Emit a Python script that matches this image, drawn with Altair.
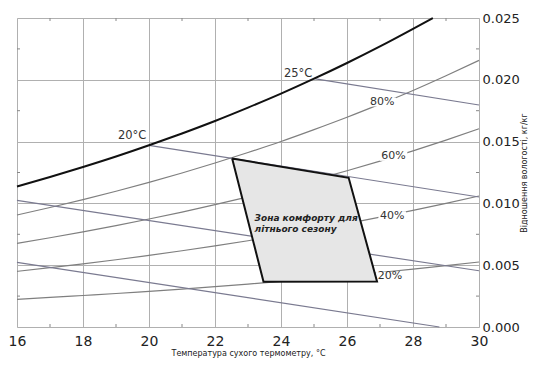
import altair as alt
import pandas as pd

# ---- data ----
T = [16, 17, 18, 19, 20, 21, 22, 23, 24, 25, 26, 27, 28, 29, 30]
T_SAT = [16, 17, 18, 19, 20, 21, 22, 23, 24, 25, 26, 27, 28, 28.6]
W_SAT = [0.01137, 0.01213, 0.01294, 0.01379, 0.01470, 0.01566, 0.01667,
         0.01775, 0.01888, 0.02009, 0.02136, 0.02270, 0.02412, 0.02500]
RH80 = [0.00906, 0.00967, 0.01031, 0.01098, 0.01170, 0.01246, 0.01327, 0.01412,
        0.01501, 0.01597, 0.01697, 0.01803, 0.01914, 0.02033, 0.02157]
RH60 = [0.00677, 0.00722, 0.00770, 0.00820, 0.00874, 0.00930, 0.00990, 0.01053,
        0.01119, 0.01190, 0.01264, 0.01342, 0.01425, 0.01512, 0.01604]
RH40 = [0.00450, 0.00480, 0.00511, 0.00544, 0.00580, 0.00617, 0.00656, 0.00698,
        0.00742, 0.00788, 0.00837, 0.00889, 0.00943, 0.01000, 0.01060]
RH20 = [0.00224, 0.00239, 0.00255, 0.00271, 0.00289, 0.00307, 0.00326, 0.00347,
        0.00369, 0.00392, 0.00416, 0.00441, 0.00468, 0.00496, 0.00526]

WB_NAMES = ["25", "20", "15", "10"]
WB_T0 = [25, 20, 16, 16]
WB_W0 = [0.02009, 0.01470, 0.01024, 0.00523]
WB_T1 = [30, 30, 30, 28.8]
WB_W1 = [0.01796, 0.01052, 0.00455, 0.0]

RH_LABELS = ["80%", "60%", "40%", "20%"]
RH_LABEL_T = [27.07, 27.41, 27.37, 27.30]
RH_LABEL_W = [0.0182, 0.0138, 0.0090, 0.0041]

WB_LABELS = ["20°C", "25°C"]
WB_LABEL_T = [19.49, 24.52]
WB_LABEL_W = [0.01544, 0.02048]

ZONE_T = [22.52, 26.05, 26.91, 23.47, 22.52]
ZONE_W = [0.01363, 0.01207, 0.00369, 0.00366, 0.01363]
ZONE_TEXT = "Зона комфорту для\nлітнього сезону"
ZONE_TEXT_T = [23.2]
ZONE_TEXT_W = [0.00855]

X_TICKS = [16, 18, 20, 22, 24, 26, 28, 30]
X_MINOR = [17, 19, 21, 23, 25, 27, 29]
Y_TICKS = [0.0, 0.005, 0.010, 0.015, 0.020, 0.025]
Y_MINOR = [0.0025, 0.0075, 0.0125, 0.0175, 0.0225]

# ---- tables ----
rh_rows = []
for name, vals in [("80", RH80), ("60", RH60), ("40", RH40), ("20", RH20)]:
    for t, w in zip(T, vals):
        rh_rows.append({"curve": name, "T": t, "W": w})
rh_df = pd.DataFrame(rh_rows)
sat_df = pd.DataFrame({"T": T_SAT, "W": W_SAT})
wb_rows = []
for n, t0, w0, t1, w1 in zip(WB_NAMES, WB_T0, WB_W0, WB_T1, WB_W1):
    wb_rows.append({"wb": n, "T": t0, "W": w0})
    wb_rows.append({"wb": n, "T": t1, "W": w1})
wb_df = pd.DataFrame(wb_rows)
rhl_df = pd.DataFrame({"label": RH_LABELS, "T": RH_LABEL_T, "W": RH_LABEL_W})
wbl_df = pd.DataFrame({"label": WB_LABELS, "T": WB_LABEL_T, "W": WB_LABEL_W})
zone_df = pd.DataFrame({"T": ZONE_T, "W": ZONE_W, "o": list(range(len(ZONE_T)))})
zt_df = pd.DataFrame({"T": ZONE_TEXT_T, "W": ZONE_TEXT_W, "txt": [ZONE_TEXT]})
xm_df = pd.DataFrame({"T": X_MINOR})
ym_df = pd.DataFrame({"W": Y_MINOR})

FONT = "DejaVu Sans"
xscale = alt.Scale(domain=[16, 30], nice=False, zero=False)
yscale = alt.Scale(domain=[0, 0.025], nice=False, zero=False)
xaxis = alt.Axis(values=X_TICKS, format="d", grid=True, gridColor="#b0b0b0",
                 gridWidth=1, ticks=False, domain=False, labelFont=FONT,
                 labelFontSize=14, labelColor="#222", labelPadding=7,
                 labelFlush=False, title="Температура сухого термометру, °C",
                 titleFont=FONT, titleFontSize=8, titleFontWeight="normal",
                 titleColor="#222", titlePadding=1)
yaxis = alt.Axis(orient="right", values=Y_TICKS, format=".3f", grid=True,
                 gridColor="#b0b0b0", gridWidth=1, ticks=False, domain=False,
                 labelFont=FONT, labelFontSize=13, labelColor="#222",
                 labelPadding=3, labelFlush=False,
                 title="Відношення вологості, кг/кг", titleAngle=270,
                 titleBaseline="top",
                 titleFont=FONT, titleFontSize=8, titleFontWeight="normal",
                 titleColor="#222", titlePadding=1)
X = alt.X("T:Q", scale=xscale, axis=xaxis)
Y = alt.Y("W:Q", scale=yscale, axis=yaxis)

rh = alt.Chart(rh_df).mark_line(color="#7f7f7f", strokeWidth=1.2,
                                interpolate="monotone").encode(x=X, y=Y, detail="curve:N")
wb = alt.Chart(wb_df).mark_line(color="#7a7a90", strokeWidth=1.2).encode(x=X, y=Y, detail="wb:N")
sat = alt.Chart(sat_df).mark_line(color="#111111", strokeWidth=2,
                                  interpolate="monotone").encode(x=X, y=Y)
boxes = alt.Chart(rhl_df).mark_point(
    shape="M-1,-0.32L1,-0.32L1,0.32L-1,0.32Z", filled=True, fill="white",
    strokeWidth=0, opacity=1, size=760).encode(x=X, y=Y)
zone = alt.Chart(zone_df).mark_line(fill="#e6e6e6", stroke="#111111", strokeWidth=2,
                                    strokeJoin="miter").encode(
    x=X, y=Y, order=alt.Order("o:Q"))
tb = alt.Chart(xm_df).mark_rule(color="#888", strokeWidth=1).encode(
    x=X, y=alt.value(309), y2=alt.value(306))
tt = alt.Chart(xm_df).mark_rule(color="#888", strokeWidth=1).encode(
    x=X, y=alt.value(0), y2=alt.value(3))
tl = alt.Chart(ym_df).mark_rule(color="#888", strokeWidth=1).encode(
    y=Y, x=alt.value(0), x2=alt.value(3))
tr = alt.Chart(ym_df).mark_rule(color="#888", strokeWidth=1).encode(
    y=Y, x=alt.value(462), x2=alt.value(459))
rhl = alt.Chart(rhl_df).mark_text(font=FONT, fontSize=11, color="#333").encode(
    x=X, y=Y, text="label:N")
wbl = alt.Chart(wbl_df).mark_text(font=FONT, fontSize=11.5, color="#333").encode(
    x=X, y=Y, text="label:N")
zt = alt.Chart(zt_df).mark_text(font=FONT, fontSize=9, fontStyle="italic",
                                fontWeight="bold", lineBreak="\n", lineHeight=11,
                                align="left", baseline="alphabetic",
                                color="#222").encode(x=X, y=Y, text="txt:N")

chart = alt.layer(rh, wb, sat, boxes, zone, tb, tt, tl, tr, rhl, wbl, zt).properties(
    width=462, height=309,
    autosize=alt.AutoSizeParams(type="none"),
    padding={"left": 9, "top": 10, "right": 49, "bottom": 31},
).configure_view(stroke="#8a8a8a", strokeWidth=1.5).configure(background="white")

chart.save("out.html", embed_options={"renderer": "svg", "actions": False})
